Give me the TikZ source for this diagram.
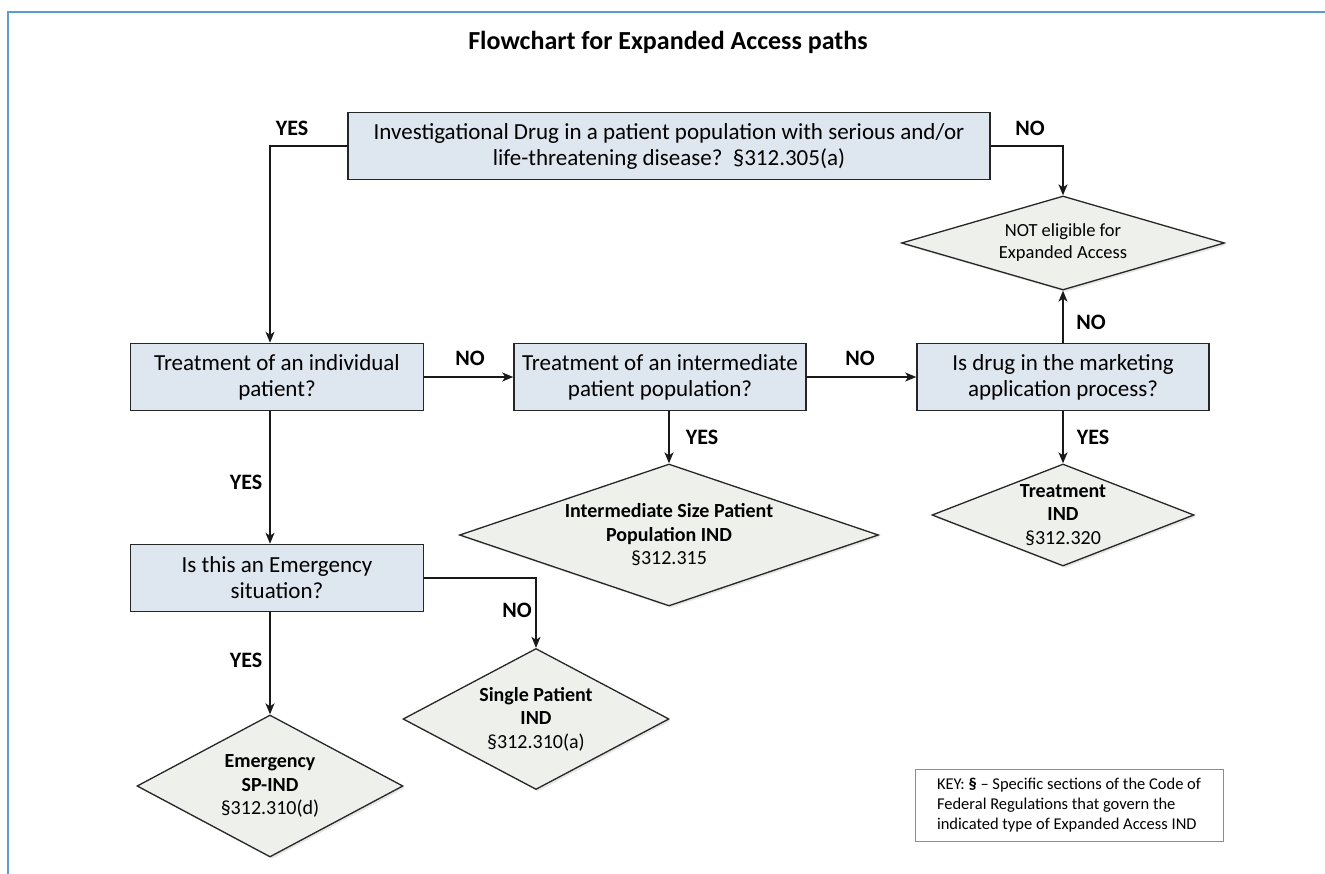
\documentclass[tikz,border=0pt]{standalone}
\usepackage{fontspec}
\setmainfont{Carlito}
\usetikzlibrary{shapes.geometric,arrows.meta,shadows}

\definecolor{boxfill}{HTML}{DEE6EF}
\definecolor{diafill}{HTML}{EEF0EC}
\definecolor{framecol}{HTML}{5A9BD3}

\tikzset{
  qbox/.style={draw=black!85, line width=1.5pt, fill=boxfill, minimum height=67pt,
    align=center, inner sep=0pt, font=\fontsize{23}{26}\selectfont},
  dia/.style={diamond, draw=black!85, line width=1.3pt, fill=diafill, inner sep=0pt,
    drop shadow={opacity=0.2, shadow xshift=2pt, shadow yshift=-2pt}},
  dtext/.style={align=center, font=\fontsize{20}{23.5}\selectfont},
  ans/.style={font=\fontsize{22}{24}\selectfont\bfseries},
  link/.style={line width=1.5pt, draw=black!90, -{Stealth[length=11pt,width=9pt,inset=3pt]}},
}

\begin{document}
\begin{tikzpicture}[x=1pt,y=-1pt]
  \useasboundingbox (0,0) rectangle (1325,874);
  \draw[framecol, line width=2pt] (8,874) -- (8,12) -- (1325,12);

  \node[font=\fontsize{26}{30}\selectfont\bfseries] (title) at (668,42) {Flowchart for Expanded Access paths};

  % questions
  \node[qbox, minimum width=642pt] (top) at (669,146)
    {Investigational Drug in a patient population with serious and/or\\life-threatening disease?~~§312.305(a)};
  \node[qbox, minimum width=293pt] (indiv) at (277,377) {Treatment of an individual\\patient?};
  \node[qbox, minimum width=292pt] (interm) at (660,377) {Treatment of an intermediate\\patient population?};
  \node[qbox, minimum width=292pt] (market) at (1063,377) {Is drug in the marketing\\application process?};
  \node[qbox, minimum width=293pt] (emerg) at (277,578) {Is this an Emergency\\situation?};

  % outcomes
  \node[dia, minimum width=323pt, minimum height=94pt,
    label={[dtext, font=\fontsize{18.5}{22}\selectfont]center:{NOT eligible for\\Expanded Access}}] (noelig) at (1063,243) {};
  \node[dia, minimum width=262pt, minimum height=102pt,
    label={[dtext]center:{\textbf{Treatment}\\\textbf{IND}\\§312.320}}] (trind) at (1063,515) {};
  \node[dia, minimum width=419pt, minimum height=142pt,
    label={[dtext]center:{\textbf{Intermediate Size Patient}\\\textbf{Population IND}\\§312.315}}] (intind) at (669,535) {};
  \node[dia, minimum width=266pt, minimum height=141pt,
    label={[dtext]center:{\textbf{Single Patient}\\\textbf{IND}\\§312.310(a)}}] (spind) at (536,719) {};
  \node[dia, minimum width=266pt, minimum height=142pt,
    label={[dtext]center:{\textbf{Emergency}\\\textbf{SP-IND}\\§312.310(d)}}] (emind) at (270,786) {};

  % key
  \node[draw=black!45, line width=0.8pt, minimum width=308pt, minimum height=72pt,
    align=left, font=\fontsize{16.5}{20}\selectfont] (key) at (1069,805)
    {KEY: \textbf{§} – Specific sections of the Code of\\Federal Regulations that govern the\\indicated type of Expanded Access IND};

  % connectors
  \draw[link] (top.west) -| (indiv.north -| emind.north);
  \draw[link] (top.east) -| (noelig.north);
  \draw[link] (indiv.east) -- (interm.west);
  \draw[link] (interm.east) -- (market.west);
  \draw[link] (market.north) -- (noelig.south);
  \draw[link] (market.south) -- (trind.north);
  \draw[link] (intind.north |- interm.south) -- (intind.north);
  \draw[link] (indiv.south -| emind.north) -- (emerg.north -| emind.north);
  \draw[link] (emerg.east) -| (spind.north);
  \draw[link] (emerg.south -| emind.north) -- (emind.north);

  % answers
  \node[ans] (yesA) at (292,128) {YES};
  \node[ans] (noA) at (1030,128) {NO};
  \node[ans] (noB) at (470,358) {NO};
  \node[ans] (noC) at (860,358) {NO};
  \node[ans] (noD) at (1091,322) {NO};
  \node[ans] (yesB) at (1093,437) {YES};
  \node[ans] (yesC) at (702,437) {YES};
  \node[ans] (yesD) at (246,482) {YES};
  \node[ans] (noE) at (517,610) {NO};
  \node[ans] (yesE) at (246,660) {YES};
\end{tikzpicture}
\end{document}
